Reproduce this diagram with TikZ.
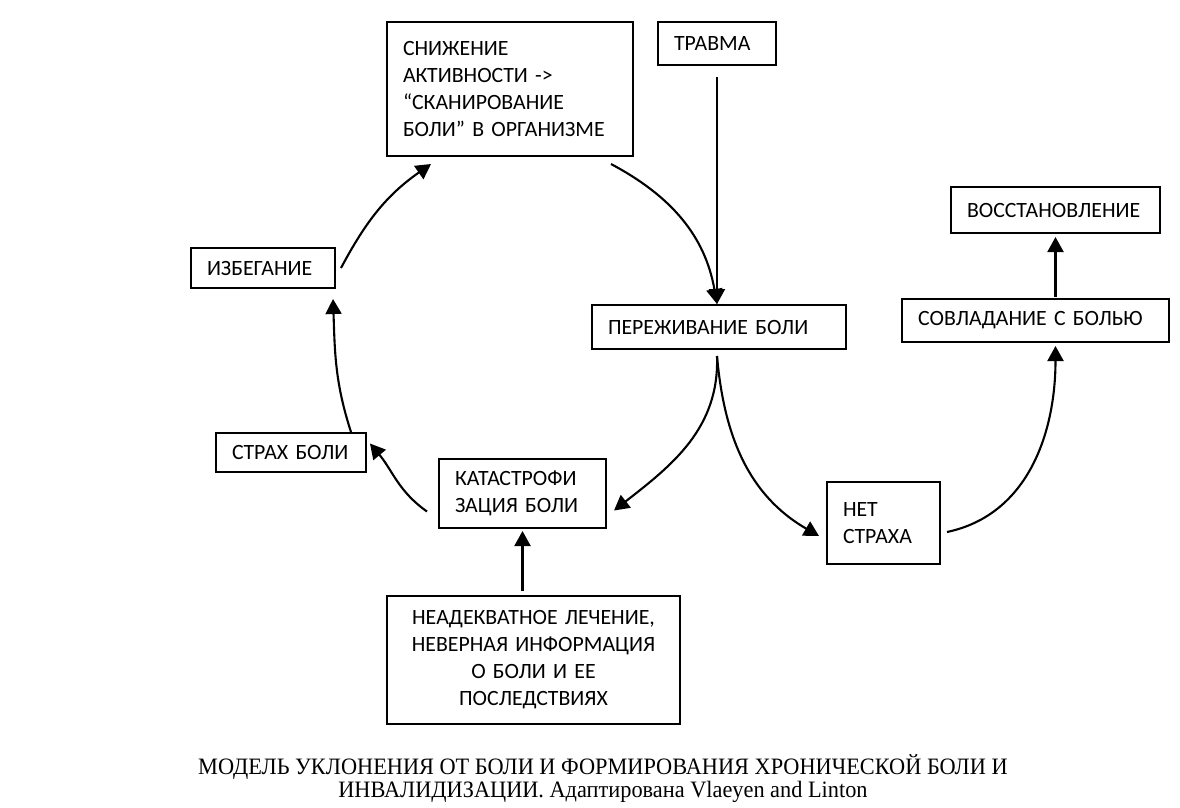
\documentclass[tikz,border=0pt]{standalone}
\usepackage{fontspec}
\setmainfont{Carlito}
\newfontfamily\capfont[FakeStretch=0.95]{Liberation Serif}
\usepackage{tikz}
\usetikzlibrary{
  arrows.meta,   % стрелки Triangle
  calc           % сдвиги точек
}
\tikzset{
  blok/.style={
    draw,
    line width=2pt,
    inner xsep=16pt,
    inner ysep=0pt,
    align=left,
    font=\fontsize{21.8}{27}\selectfont
  },
  strelka/.style={
    -{Triangle[length=15pt, width=16pt]},
    line width=2.1pt
  },
  podpis/.style={
    align=center,
    font=\capfont\fontsize{23.5}{23}\selectfont
  }
}

\begin{document}
\begin{tikzpicture}[x=1pt, y=-1pt]
    \useasboundingbox (0, 0) rectangle (1180, 807);

    % 1. Блоки схемы
    \node[blok, text width=214pt, minimum height=134pt] (aktiv) at (510, 89)
      {СНИЖЕНИЕ\\АКТИВНОСТИ ->\\“СКАНИРОВАНИЕ\\БОЛИ” В ОРГАНИЗМЕ\\[2pt]};
    \node[blok, text width=86pt, minimum height=43pt] (travma) at (717, 43.5) {ТРАВМА};
    \node[blok, text width=177pt, minimum height=46pt] (vosst) at (1055.5, 210) {ВОССТАНОВЛЕНИЕ};
    \node[blok, text width=112pt, minimum height=40pt] (izbeg) at (263, 268) {ИЗБЕГАНИЕ};
    \node[blok, text width=222pt, minimum height=44pt] (perezh) at (719, 327) {ПЕРЕЖИВАНИЕ БОЛИ};
    \node[blok, text width=235pt, minimum height=43pt] (sovlad) at (1035.5, 320.5) {СОВЛАДАНИЕ С БОЛЬЮ};
    \node[blok, text width=118pt, minimum height=39pt] (strah) at (291, 452.5) {СТРАХ БОЛИ};
    \node[blok, text width=135pt, minimum height=69pt] (katas) at (522.5, 493.5)
      {КАТАСТРОФИ\\ЗАЦИЯ БОЛИ};
    \node[blok, text width=81pt, minimum height=82pt] (netstrah) at (883.5, 523)
      {НЕТ\\СТРАХА\\[6pt]};
    \node[blok, align=center, text width=261pt, minimum height=128pt] (lechen) at (533.5, 660)
      {НЕАДЕКВАТНОЕ ЛЕЧЕНИЕ,\\НЕВЕРНАЯ ИНФОРМАЦИЯ\\О БОЛИ И ЕЕ\\ПОСЛЕДСТВИЯХ};

    % 2. Круг избегания
    \draw[strelka] ([xshift=-23pt, yshift=-7pt]aktiv.south east)
      to[out=-28, in=100] ([xshift=-2pt]perezh.north);
    \draw[strelka] ([yshift=-11pt]travma.south) -- (travma.south |- perezh.north);
    \draw[strelka] ([xshift=5pt]izbeg.east) to[out=62, in=215] ([xshift=45pt, yshift=-7pt]aktiv.south west);
    \draw[strelka] ([xshift=-16pt]strah.north east) to[out=108, in=-88] ([xshift=-3pt, yshift=-10pt]izbeg.south east);
    \draw[strelka] ([xshift=-11pt, yshift=-18pt]katas.west) to[out=145, in=-50] ([xshift=3pt, yshift=9pt]strah.east);
    \draw[strelka] ([xshift=-2pt, yshift=-6pt]perezh.south) to[out=-88, in=38] ([xshift=7pt, yshift=-17pt]katas.east);

    % 3. Выход из круга
    \draw[strelka] ([xshift=-2pt, yshift=-6pt]perezh.south) to[out=-85, in=150] ([xshift=-7pt, yshift=-13pt]netstrah.west);
    \draw[strelka] ([yshift=4pt]lechen.north -| katas.south) -- ([yshift=-2pt]katas.south);
    \draw[strelka] ([xshift=6pt, yshift=-9pt]netstrah.east) to[out=12, in=-90] ([yshift=-3pt]sovlad.south -| vosst.south);
    \draw[strelka] ([yshift=1pt]sovlad.north -| vosst.south) -- ([yshift=-3pt]vosst.south);

    % 4. Подпись
    \node[podpis] (podp) at (603, 779)
      {МОДЕЛЬ УКЛОНЕНИЯ ОТ БОЛИ И ФОРМИРОВАНИЯ ХРОНИЧЕСКОЙ БОЛИ И\\
       ИНВАЛИДИЗАЦИИ. Адаптирована Vlaeyen and Linton};
\end{tikzpicture}
\end{document}
